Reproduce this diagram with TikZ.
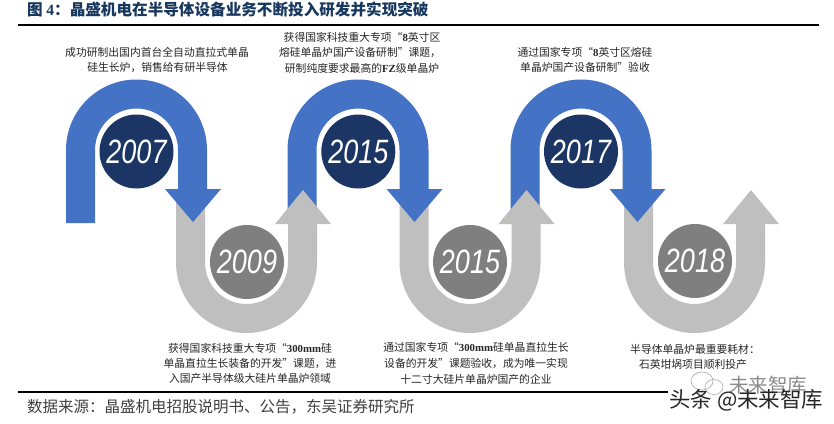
\documentclass[tikz,border=0pt]{standalone}
\usepackage{fontspec}
\setmainfont{Noto Sans CJK SC}
\newfontfamily\latf{Liberation Serif}
\newfontfamily\yearf{Liberation Sans}
\newcommand{\lt}[1]{{\latf\bfseries #1}}
\definecolor{archblue}{HTML}{4472C4}
\definecolor{navy}{HTML}{1B3564}
\definecolor{ugray}{HTML}{BFBFBF}
\definecolor{dgray}{HTML}{7F7F7F}
\definecolor{titleblue}{HTML}{17375E}
\newcommand{\bluearch}[2]{%
  \fill[archblue] ({#1-70.5},#2) -- ({#1-70.5},150) arc[start angle=180,end angle=0,radius=70.5pt]
    -- ({#1+70.5},189) -- ({#1+84.5},189) -- ({#1+56.5},222) -- ({#1+28.5},189) -- ({#1+41.5},189)
    -- ({#1+41.5},150) arc[start angle=0,end angle=180,radius=41.5pt] -- ({#1-41.5},#2) -- cycle;}
\newcommand{\grayu}[1]{%
  \fill[ugray] ({#1-70.5},195) -- ({#1-70.5},262.5) arc[start angle=180,end angle=360,radius=70.5pt]
    -- ({#1+70.5},224) -- ({#1+84.5},224) -- ({#1+56.5},190) -- ({#1+28.5},224) -- ({#1+41.5},224)
    -- ({#1+41.5},262.5) arc[start angle=360,end angle=180,radius=41.5pt] -- ({#1-41.5},195) -- cycle;}
\tikzset{
  yearnode/.style={circle,minimum size=74pt,inner sep=0pt,text=white,font=\yearf\itshape\fontsize{27}{27}\selectfont},
  bluedisc/.style={yearnode,fill=navy},
  graydisc/.style={yearnode,fill=dgray},
  noteline/.style={font=\fontsize{10.8}{10.8}\selectfont,text=black!85,inner sep=0pt,anchor=center},
  rulebar/.style={line width=2pt,black},
}
\newcommand{\yr}[1]{\scalebox{1}[1.25]{#1}}
\begin{document}
\begin{tikzpicture}[x=1pt,y=-1pt]
\useasboundingbox (0,0) rectangle (834,423);
\fill[white] (0,0) rectangle (834,423);
% title and rules
\node[anchor=west,inner sep=0pt,text=titleblue,font=\bfseries\fontsize{15.6}{15.6}\selectfont] (title) at (27,10) {图 \lt{4}：晶盛机电在半导体设备业务不断投入研发并实现突破};
\coordinate (ruleTopL) at (18,25);
\coordinate (ruleTopR) at (819,25);
\draw[rulebar] (ruleTopL) -- (ruleTopR);
\coordinate (ruleBotL) at (18,392);
\coordinate (ruleBotR) at (668,392);
\draw[rulebar] (ruleBotL) -- (ruleBotR);
% ribbons, from back to front
\grayu{694.5}
\bluearch{581}{215}
\grayu{470}
\bluearch{358}{215}
\grayu{246.5}
\bluearch{136.5}{223}
% discs
\node[bluedisc] (y1) at (136.5,151.5) {\yr{2007}};
\node[graydisc] (y2) at (247,262) {\yr{2009}};
\node[bluedisc] (y3) at (358.3,151.5) {\yr{2015}};
\node[graydisc] (y4) at (470,262) {\yr{2015}};
\node[bluedisc] (y5) at (581,151.5) {\yr{2017}};
\node[graydisc] (y6) at (695,261) {\yr{2018}};
% notes
\node[noteline] (a1) at (157,52.5) {成功研制出国内首台全自动直拉式单晶};
\node[noteline] (a2) at (157.5,68) {硅生长炉，销售给有研半导体};
\node[noteline] (b1) at (362,37) {获得国家科技重大专项“\lt{8}英寸区};
\node[noteline] (b2) at (360,53) {熔硅单晶炉国产设备研制”课题，};
\node[noteline] (b3) at (362,68) {研制纯度要求最高的\lt{FZ}级单晶炉};
\node[noteline] (c1) at (585,52.5) {通过国家专项“\lt{8}英寸区熔硅};
\node[noteline] (c2) at (585,67) {单晶炉国产设备研制”验收};
\node[noteline] (d1) at (250,348) {获得国家科技重大专项“\lt{300mm}硅};
\node[noteline] (d2) at (250,363) {单晶直拉生长装备的开发”课题，进};
\node[noteline] (d3) at (250,378) {入国产半导体级大硅片单晶炉领域};
\node[noteline] (e1) at (476,347) {通过国家专项“\lt{300mm}硅单晶直拉生长};
\node[noteline] (e2) at (476,363) {设备的开发”课题验收，成为唯一实现};
\node[noteline] (e3) at (476,379) {十二寸大硅片单晶炉国产的企业};
\node[noteline] (f1) at (695,349) {半导体单晶炉最重要耗材：};
\node[noteline] (f2) at (693,364) {石英坩埚项目顺利投产};
% source
\node[anchor=west,inner sep=0pt,text=black!75,font=\fontsize{15.5}{15.5}\selectfont] (src) at (27,407) {数据来源：晶盛机电招股说明书、公告，东吴证券研究所};
% watermark
\draw[black!30,line width=.7pt] (702,381) ellipse[x radius=11pt,y radius=9pt];
\draw[black!30,line width=.7pt] (714,387) ellipse[x radius=9pt,y radius=7.5pt];
\node[anchor=west,inner sep=0pt,text=black!45,font=\fontsize{19.5}{19.5}\selectfont] (wm1) at (729,385) {未来智库};
\node[anchor=west,inner sep=0pt,text=black!85,font=\fontsize{21.5}{21.5}\selectfont] (wm2) at (669,400) {头条 @未来智库};
\end{tikzpicture}
\end{document}
